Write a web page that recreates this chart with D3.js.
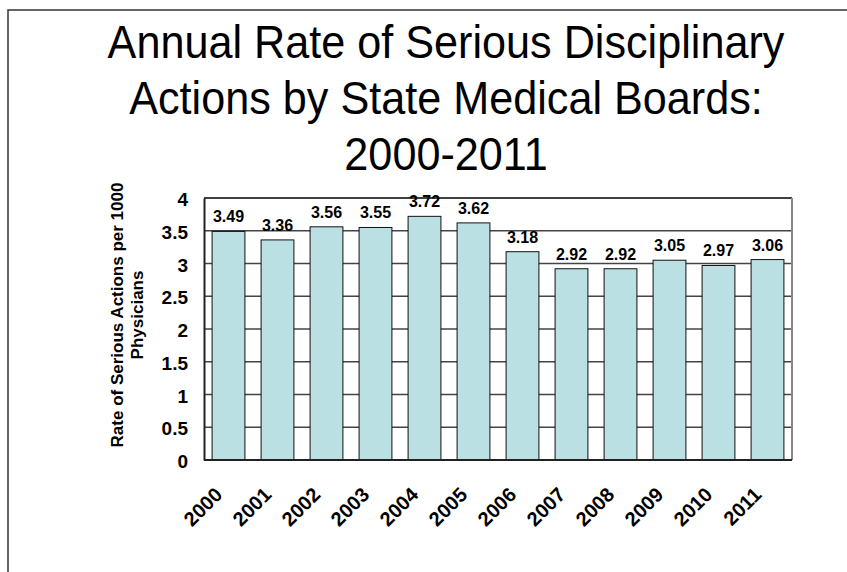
<!DOCTYPE html>
<html>
<head>
<meta charset="utf-8">
<script src="https://cdn.jsdelivr.net/npm/d3@7"></script>
<style>
  body { margin: 0; background: #fff; }
  svg { display: block; }
</style>
</head>
<body>
<svg></svg>
<script>
let years = ["2000", "2001", "2002", "2003", "2004", "2005", "2006", "2007", "2008", "2009", "2010", "2011"];
let rates = [3.49, 3.36, 3.56, 3.55, 3.72, 3.62, 3.18, 2.92, 2.92, 3.05, 2.97, 3.06];
let yTicks = [0, 0.5, 1, 1.5, 2, 2.5, 3, 3.5, 4];
let titleLines = ["Annual Rate of Serious Disciplinary", "Actions by State Medical Boards:", "2000-2011"];
let yTitleLines = ["Rate of Serious Actions per 1000", "Physicians"];

let width = 847;
let height = 572;

// plot area
let plotLeft = 204;
let plotRight = 792;
let plotTop = 198;
let plotBottom = 460;

let svg = d3.select("svg").attr("width", width).attr("height", height);

// slide frame
svg.append("rect")
  .attr("x", 8).attr("y", 10)
  .attr("width", 860).attr("height", 600)
  .attr("fill", "none")
  .attr("stroke", "#333")
  .attr("stroke-width", 1.5);

// title
let title = svg.append("g")
  .attr("transform", "translate(446, 0) scale(0.96, 1.04)");
title.selectAll("text")
  .data(titleLines)
  .enter()
  .append("text")
  .attr("x", 0)
  .attr("y", (d, i) => (58 + i * 56) / 1.04)
  .attr("text-anchor", "middle")
  .attr("font-family", "Liberation Sans, Arial, sans-serif")
  .attr("font-size", 45)
  .attr("fill", "#000")
  .text((d) => d);

let xScale = d3.scaleBand()
  .domain(years)
  .range([plotLeft, plotRight])
  .paddingInner(0.33)
  .paddingOuter(0.165);

let yScale = d3.scaleLinear()
  .domain([0, 4])
  .range([plotBottom, plotTop]);

// gridlines
svg.append("g")
  .selectAll("line")
  .data(yTicks.filter((t) => t > 0 && t < 4))
  .enter()
  .append("line")
  .attr("x1", plotLeft).attr("x2", plotRight)
  .attr("y1", (d) => yScale(d)).attr("y2", (d) => yScale(d))
  .attr("stroke", "#444")
  .attr("stroke-width", 1.3);

// plot border: top black, right gray
svg.append("line")
  .attr("x1", plotLeft).attr("x2", plotRight)
  .attr("y1", yScale(4)).attr("y2", yScale(4))
  .attr("stroke", "#000").attr("stroke-width", 1.5);
svg.append("line")
  .attr("x1", plotRight).attr("x2", plotRight)
  .attr("y1", yScale(4)).attr("y2", yScale(0))
  .attr("stroke", "#888").attr("stroke-width", 2);

// bars
svg.selectAll("rect.bar")
  .data(rates)
  .enter()
  .append("rect")
  .attr("class", "bar")
  .attr("x", (d, i) => xScale(years[i]))
  .attr("y", (d) => yScale(d))
  .attr("width", xScale.bandwidth())
  .attr("height", (d) => yScale(0) - yScale(d))
  .attr("fill", "#bbe0e3")
  .attr("stroke", "#111")
  .attr("stroke-width", 1);

// value labels
svg.selectAll("text.value")
  .data(rates)
  .enter()
  .append("text")
  .attr("class", "value")
  .attr("x", (d, i) => xScale(years[i]) + xScale.bandwidth() / 2)
  .attr("y", (d) => yScale(d) - 9)
  .attr("text-anchor", "middle")
  .attr("font-family", "Liberation Sans, Arial, sans-serif")
  .attr("font-weight", "bold")
  .attr("font-size", 16)
  .text((d) => d.toFixed(2));

// y axis
let yAxis = d3.axisLeft(yScale)
  .tickValues(yTicks)
  .tickFormat((d) => String(d))
  .tickSize(0)
  .tickPadding(16);

let yAxisG = svg.append("g")
  .attr("transform", "translate(" + plotLeft + ", 0)")
  .call(yAxis);
yAxisG.select(".domain").attr("stroke", "#222").attr("stroke-width", 2);
yAxisG.selectAll("text")
  .attr("font-family", "Liberation Sans, Arial, sans-serif")
  .attr("font-weight", "bold")
  .attr("font-size", 19)
  .attr("dy", "0.4em")
  .attr("fill", "#000");

// x axis
let xAxis = d3.axisBottom(xScale).tickSize(0).tickPadding(0);
let xAxisG = svg.append("g")
  .attr("transform", "translate(0, " + plotBottom + ")")
  .call(xAxis);
xAxisG.select(".domain")
  .attr("d", "M" + plotLeft + ",0H" + plotRight)
  .attr("stroke", "#222").attr("stroke-width", 2);
xAxisG.selectAll("text")
  .attr("font-family", "Liberation Sans, Arial, sans-serif")
  .attr("font-weight", "bold")
  .attr("font-size", 20)
  .attr("fill", "#000")
  .attr("text-anchor", "end")
  .attr("dy", 0)
  .attr("y", 0)
  .attr("transform", "translate(-5, 36) rotate(-45)");

// y axis title
svg.append("g")
  .attr("transform", "translate(0, 315) rotate(-90)")
  .selectAll("text")
  .data(yTitleLines)
  .enter()
  .append("text")
  .attr("x", 0)
  .attr("y", (d, i) => 123 + i * 20)
  .attr("text-anchor", "middle")
  .attr("font-family", "Liberation Sans, Arial, sans-serif")
  .attr("font-weight", "bold")
  .attr("font-size", 17)
  .text((d) => d);
</script>
</body>
</html>
